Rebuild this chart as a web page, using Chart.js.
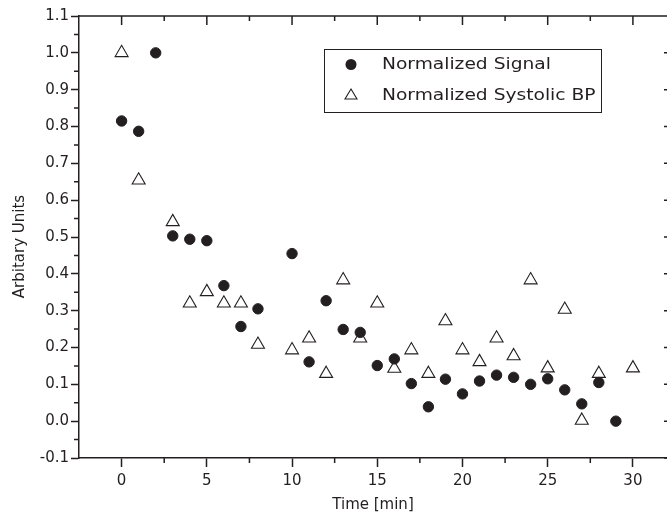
<!DOCTYPE html>
<html>
<head>
<meta charset="utf-8">
<script src="https://cdn.jsdelivr.net/npm/chart.js@4.4.0/dist/chart.umd.min.js"></script>
<style>
  html, body { margin: 0; padding: 0; background: #fff; }
  canvas { display: block; }
</style>
</head>
<body>
<canvas id="myChart" width="667" height="516"></canvas>
<script>
// values
let timeSignal = [0, 1, 2, 3, 4, 5, 6, 7, 8, 10, 11, 12, 13, 14, 15, 16, 17, 18, 19, 20, 21, 22, 23, 24, 25, 26, 27, 28, 29];
let signal = [0.815, 0.787, 1.0, 0.503, 0.494, 0.49, 0.368, 0.257, 0.305, 0.455, 0.161, 0.327, 0.249, 0.241, 0.151, 0.169, 0.102, 0.039, 0.114, 0.074, 0.109, 0.125, 0.119, 0.1, 0.115, 0.085, 0.047, 0.105, 0.0];

let timeBP = [0, 1, 3, 4, 5, 6, 7, 8, 10, 11, 12, 13, 14, 15, 16, 17, 18, 19, 20, 21, 22, 23, 24, 25, 26, 27, 28, 30];
let systolicBP = [1.0, 0.654, 0.541, 0.32, 0.351, 0.32, 0.32, 0.208, 0.193, 0.225, 0.129, 0.383, 0.225, 0.32, 0.143, 0.193, 0.129, 0.272, 0.193, 0.161, 0.225, 0.177, 0.383, 0.144, 0.303, 0.002, 0.129, 0.144];

let seriesNames = ['Normalized Signal', 'Normalized Systolic BP'];

let xTickLabels = [0, 5, 10, 15, 20, 25, 30];
let xMinorTicks = [2.5, 7.5, 12.5, 17.5, 22.5, 27.5];
let yTickLabels = [-0.1, 0.0, 0.1, 0.2, 0.3, 0.4, 0.5, 0.6, 0.7, 0.8, 0.9, 1.0, 1.1];
let yMinorTicks = [-0.05, 0.05, 0.15, 0.25, 0.35, 0.45, 0.55, 0.65, 0.75, 0.85, 0.95, 1.05];

const ink = '#231f20';
const font = 'DejaVu Sans';

function toPoints(xs, ys) {
    return xs.map((x, i) => ({ x: x, y: ys[i] }));
}

// top/right axis lines, minor ticks, mirrored ticks
const frame = {
    id: 'frame',
    afterDraw(chart) {
        const ctx = chart.ctx;
        const a = chart.chartArea;
        const xs = chart.scales.x;
        const ys = chart.scales.y;
        ctx.save();
        ctx.strokeStyle = ink;
        ctx.lineWidth = 1.5;
        ctx.beginPath();
        ctx.moveTo(a.left, a.top);
        ctx.lineTo(a.right, a.top);
        xTickLabels.forEach(v => {
            const px = xs.getPixelForValue(v);
            ctx.moveTo(px, a.top);
            ctx.lineTo(px, a.top + 9);
        });
        xMinorTicks.forEach(v => {
            const px = xs.getPixelForValue(v);
            ctx.moveTo(px, a.top);
            ctx.lineTo(px, a.top + 5);
            ctx.moveTo(px, a.bottom);
            ctx.lineTo(px, a.bottom + 5);
        });
        yTickLabels.forEach(v => {
            const py = ys.getPixelForValue(v);
            ctx.moveTo(a.right, py);
            ctx.lineTo(a.right - 3, py);
        });
        yMinorTicks.forEach(v => {
            const py = ys.getPixelForValue(v);
            ctx.moveTo(a.left, py);
            ctx.lineTo(a.left - 5, py);
        });
        ctx.stroke();
        ctx.restore();
    }
};

// boxed legend inside the plot
const boxLegend = {
    id: 'boxLegend',
    afterDraw(chart) {
        const ctx = chart.ctx;
        ctx.save();
        ctx.strokeStyle = ink;
        ctx.lineWidth = 1;
        ctx.strokeRect(324.5, 49.5, 277, 63);

        // circle
        ctx.fillStyle = ink;
        ctx.beginPath();
        ctx.arc(351, 64.5, 5.5, 0, Math.PI * 2);
        ctx.fill();

        // triangle
        ctx.lineWidth = 1.1;
        ctx.beginPath();
        ctx.moveTo(351, 89);
        ctx.lineTo(357, 99);
        ctx.lineTo(345, 99);
        ctx.closePath();
        ctx.stroke();

        ctx.font = '16px "' + font + '"';
        ctx.textBaseline = 'middle';
        ctx.textAlign = 'left';
        [64.5, 95.5].forEach((y, i) => {
            ctx.save();
            ctx.translate(382, y);
            ctx.scale(1.165, 1);
            ctx.fillText(chart.data.datasets[i].label, 0, 0);
            ctx.restore();
        });
        ctx.restore();
    }
};

let ctx = document.getElementById('myChart').getContext('2d');

let chart = new Chart(ctx, {
    type: 'scatter',
    data: {
        datasets: [{
            label: seriesNames[0],
            data: toPoints(timeSignal, signal),
            pointStyle: 'circle',
            pointRadius: 5.2,
            borderWidth: 1,
            backgroundColor: ink,
            borderColor: ink
        }, {
            label: seriesNames[1],
            data: toPoints(timeBP, systolicBP),
            pointStyle: 'triangle',
            pointRadius: 7.5,
            borderWidth: 1.1,
            backgroundColor: 'rgba(255,255,255,0)',
            borderColor: ink
        }]
    },
    options: {
        responsive: false,
        animation: false,
        // no extra room for point radius, the plot runs right to the edge
        layout: { autoPadding: false, padding: { top: 16, right: 0, left: 0, bottom: 0 } },
        plugins: {
            legend: { display: false },
            tooltip: { enabled: false }
        },
        scales: {
            x: {
                type: 'linear',
                min: -2.5,
                max: 32,
                afterBuildTicks: s => { s.ticks = xTickLabels.map(v => ({ value: v })); },
                afterFit: s => { s.height = 58; },
                ticks: {
                    color: ink,
                    font: { family: font, size: 15 },
                    padding: 5,
                    maxRotation: 0
                },
                grid: {
                    drawOnChartArea: false,
                    tickLength: 9,
                    tickWidth: 1.5,
                    tickColor: ink
                },
                border: { color: ink, width: 1.5 },
                title: {
                    display: true,
                    text: 'Time [min]',
                    color: ink,
                    font: { family: font, size: 15 },
                    padding: { top: 0, bottom: 2 }
                }
            },
            y: {
                type: 'linear',
                min: -0.1,
                max: 1.1,
                afterBuildTicks: s => { s.ticks = yTickLabels.map(v => ({ value: v })); },
                afterFit: s => { s.width = 79; },
                ticks: {
                    color: ink,
                    font: { family: font, size: 15 },
                    padding: 2,
                    callback: v => v.toFixed(1)
                },
                grid: {
                    drawOnChartArea: false,
                    tickLength: 8,
                    tickWidth: 1.5,
                    tickColor: ink
                },
                border: { color: ink, width: 1.5 },
                title: {
                    display: true,
                    // trailing spaces nudge the centred title down a little, as in the original
                    text: 'Arbitary Units\u00a0\u00a0\u00a0\u00a0',
                    color: ink,
                    font: { family: font, size: 15 },
                    padding: { top: 11, bottom: 0 }
                }
            }
        }
    },
    plugins: [frame, boxLegend]
});
</script>
</body>
</html>
